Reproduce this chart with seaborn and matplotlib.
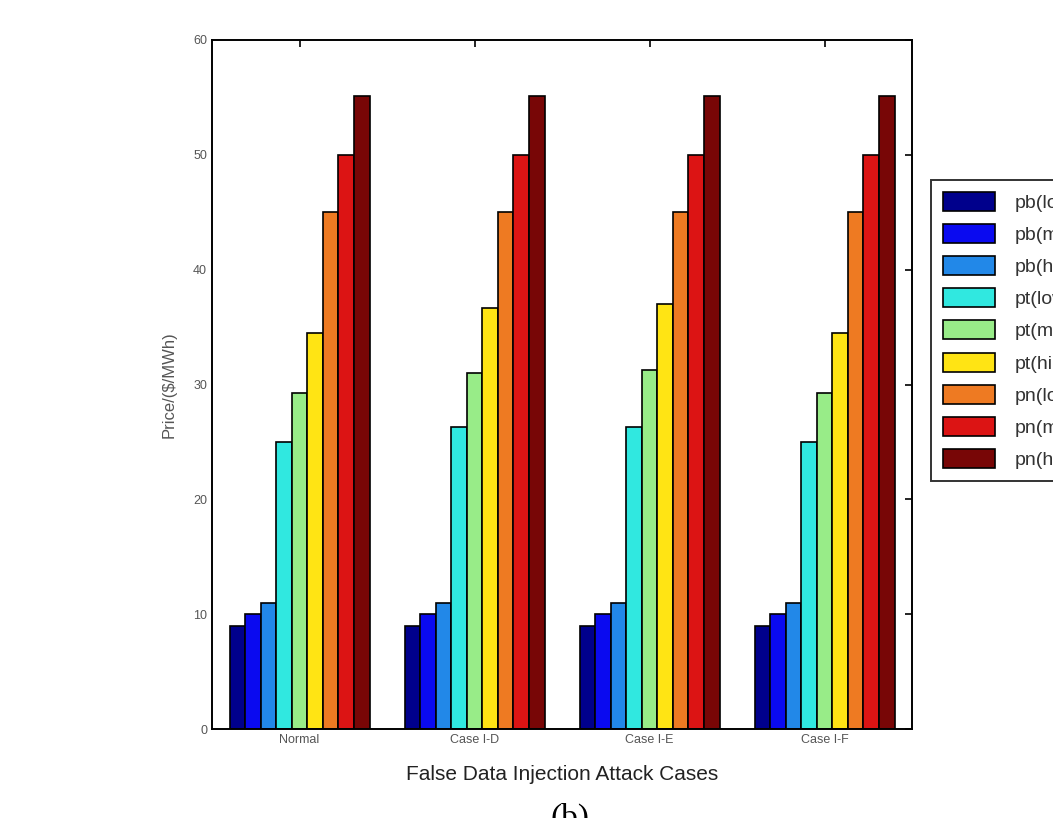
import pandas as pd
import numpy as np
import matplotlib.pyplot as plt
import seaborn as sns

cases = ["Normal", "Case I-D", "Case I-E", "Case I-F"]
series = ["pb(low)", "pb(med)", "pb(high)", "pt(low)", "pt(med)", "pt(high)",
          "pn(low)", "pn(med)", "pn(high)"]
pb_low = [9, 9, 9, 9]
pb_med = [10, 10, 10, 10]
pb_high = [11, 11, 11, 11]
pt_low = [25, 26.3, 26.3, 25]
pt_med = [29.3, 31.0, 31.3, 29.3]
pt_high = [34.5, 36.7, 37.0, 34.5]
pn_low = [45, 45, 45, 45]
pn_med = [50, 50, 50, 50]
pn_high = [55.1, 55.1, 55.1, 55.1]
colors = ["#00008c", "#0a0af0", "#2288e8", "#30e8e0", "#98ec88",
          "#ffe414", "#ee7a22", "#dc1414", "#780606"]

values = [pb_low, pb_med, pb_high, pt_low, pt_med, pt_high, pn_low, pn_med, pn_high]
rows = []
for name, vals in zip(series, values):
    for c, v in zip(cases, vals):
        rows.append({"case": c, "series": name, "price": v})
df = pd.DataFrame(rows)

sns.set_style("white")
plt.rcParams["font.family"] = ["Liberation Sans", "DejaVu Sans"]

fig = plt.figure(figsize=(10.53, 8.18), dpi=100)
ax = fig.add_axes([212 / 1053, 89 / 818, 700 / 1053, 689 / 818])

sns.barplot(data=df, x="case", y="price", hue="series", order=cases, hue_order=series,
            palette=colors, saturation=1, edgecolor="black", linewidth=1.2, width=0.8, ax=ax)

ax.set_xlim(-0.5, 3.5)
ax.set_ylim(0, 60)
ax.set_yticks(range(0, 61, 10))
ax.tick_params(direction="in", top=True, right=True, length=5, width=1.2,
               labelsize=9, labelcolor="#555555", color="black")
for s in ax.spines.values():
    s.set_color("black")
    s.set_linewidth(1.4)
ax.set_xlabel("False Data Injection Attack Cases", fontsize=15, color="#222222", labelpad=14)
ax.set_ylabel("Price/($/MWh)", fontsize=12, color="#555555", labelpad=12)

# legend runs off the right edge, as in the source figure
handles, labels = ax.get_legend_handles_labels()
leg = ax.legend(handles, labels, loc="upper left", bbox_to_anchor=(931 / 1053, 1 - 180 / 818),
                bbox_transform=fig.transFigure, frameon=True, fancybox=False, borderaxespad=0,
                edgecolor="black", fontsize=14, handlelength=2.7, handleheight=1.13,
                labelspacing=0.62, borderpad=0.6, handletextpad=1.0)
leg.get_frame().set_linewidth(1.4)
for t in leg.get_texts():
    t.set_color("#333333")

fig.text(570 / 1053, 1 - 803 / 818, "(b)", ha="center", va="top", fontsize=24,
         family="Liberation Serif", color="black")

fig.savefig("out.png", dpi=100)
